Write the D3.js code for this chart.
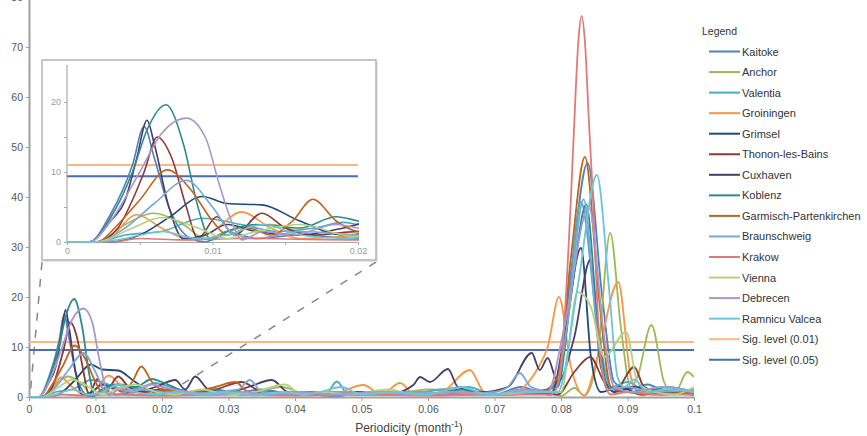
<!DOCTYPE html>
<html>
<head>
<meta charset="utf-8">
<script src="https://cdn.jsdelivr.net/npm/d3@7"></script>
<style>
body { margin: 0; background: #fff; }
text { font-family: "Liberation Sans", Arial, sans-serif; }
</style>
</head>
<body>
<svg id="chart" width="867" height="436"></svg>
<script>
// station names + colours (legend order)
var stations = ["Kaitoke", "Anchor", "Valentia", "Groiningen", "Grimsel", "Thonon-les-Bains",
    "Cuxhaven", "Koblenz", "Garmisch-Partenkirchen", "Braunschweig", "Krakow", "Vienna",
    "Debrecen", "Ramnicu Valcea"];
var colors = ["#4f81bd", "#9bbb59", "#4bacc6", "#f79646", "#1f497d", "#8b3a38",
    "#4a3d66", "#2f8a8c", "#c0631f", "#7ca6d8", "#e07a78", "#b7d27e",
    "#a898cc", "#6cc5da"];

// periodogram values: [periodicity, power]
var kaitoke = [[0,0],[0.0015,0],[0.003,4],[0.0045,11],[0.0053,16.5],[0.006,12],[0.007,5],[0.0085,0.5],[0.0095,0],[0.011,1.5],[0.013,0.5],[0.016,1],[0.02,0.5],[0.025,1],[0.03,0.5],[0.035,1.5],[0.04,0.5],[0.046,1],[0.052,0.5],[0.058,1],[0.064,0.5],[0.07,0.5],[0.074,2],[0.077,1],[0.0795,3],[0.0815,25],[0.084,46.8],[0.0862,20],[0.088,3],[0.09,1.5],[0.093,2.5],[0.096,1],[0.1,1.5]];
var anchor = [[0,0],[0.002,0],[0.004,2.5],[0.0059,4.1],[0.008,2.5],[0.0095,0.5],[0.011,1.5],[0.014,2.5],[0.017,1],[0.02,1.5],[0.024,0.5],[0.028,1],[0.032,0.5],[0.038,2],[0.042,0.5],[0.048,1],[0.054,0.5],[0.06,1.5],[0.066,1],[0.072,0.5],[0.078,1],[0.08,0.2],[0.082,1.8],[0.0835,0.3],[0.0855,8],[0.0874,32.8],[0.089,14],[0.0905,2],[0.0915,4],[0.0936,14.4],[0.0955,3],[0.097,0.5],[0.099,5],[0.1,4]];
var valentia = [[0,0],[0.002,0],[0.004,1],[0.0065,1.5],[0.0093,3.4],[0.012,2.5],[0.0145,1.5],[0.017,2],[0.019,2.8],[0.02,2.5],[0.024,1],[0.028,0.5],[0.032,1],[0.036,0.5],[0.04,1],[0.0445,0.3],[0.0463,3.1],[0.048,0.5],[0.052,1],[0.056,0.5],[0.062,1.5],[0.066,2],[0.07,0.5],[0.075,1.5],[0.0785,1],[0.0805,10],[0.083,39],[0.0855,14],[0.0875,2],[0.09,3],[0.093,1],[0.096,2],[0.1,1]];
var groiningen = [[0,0],[0.0025,0],[0.0048,3.9],[0.0065,2],[0.0085,0.3],[0.01,1.5],[0.012,4.3],[0.014,2],[0.016,0.5],[0.02,0.8],[0.025,0.5],[0.03,1],[0.035,0.5],[0.04,0.8],[0.045,0.3],[0.0503,2.4],[0.053,0.5],[0.0558,2.8],[0.058,0.5],[0.062,1],[0.0663,5.4],[0.0685,1],[0.072,0.5],[0.0768,6.4],[0.078,10],[0.0797,20],[0.0815,6],[0.0835,0.3],[0.0855,8],[0.0886,23],[0.0905,4],[0.092,0.5],[0.095,1],[0.1,0.5]];
var grimsel = [[0,0],[0.003,0],[0.005,1],[0.007,3.5],[0.0093,6.5],[0.011,5.5],[0.0134,5.3],[0.016,3],[0.019,1],[0.022,1.5],[0.026,0.5],[0.03,1],[0.034,0.5],[0.04,0.8],[0.046,0.3],[0.052,0.8],[0.058,0.5],[0.064,1],[0.07,0.5],[0.075,1],[0.0785,0.5],[0.0805,12],[0.083,29.8],[0.0845,8],[0.086,1],[0.089,2],[0.092,0.5],[0.096,1],[0.1,0.5]];
var thonon = [[0,0],[0.002,0],[0.0035,2],[0.0045,6],[0.0053,10],[0.0062,15],[0.0072,12],[0.0082,5],[0.009,0.5],[0.0103,3.6],[0.0115,1],[0.0134,4.1],[0.015,2],[0.017,1],[0.02,1.5],[0.024,1],[0.028,1.5],[0.032,3],[0.035,1],[0.04,0.5],[0.045,1],[0.05,0.5],[0.056,1],[0.06,0.5],[0.065,1],[0.07,0.5],[0.075,1],[0.0795,0.5],[0.082,5],[0.0844,8],[0.0865,3],[0.088,1],[0.091,6],[0.0925,2],[0.095,1],[0.1,0.5]];
var cuxhaven = [[0,0],[0.0015,0],[0.003,3],[0.004,6],[0.0048,12],[0.0055,17.4],[0.006,14],[0.007,5],[0.008,0.5],[0.0095,1],[0.011,2.5],[0.013,1.5],[0.016,1],[0.019,2],[0.022,3.4],[0.0235,1.5],[0.025,4.1],[0.027,1.5],[0.03,1],[0.033,2],[0.0365,3.4],[0.039,1],[0.045,0.5],[0.05,1],[0.054,0.5],[0.0578,2.4],[0.0588,4],[0.0603,3],[0.063,5.6],[0.0645,2],[0.068,1],[0.072,2],[0.0756,8.8],[0.0768,5.4],[0.078,7.8],[0.0795,3],[0.082,12],[0.0844,27.4],[0.086,6],[0.088,1],[0.091,2],[0.095,0.5],[0.1,1]];
var koblenz = [[0,0],[0.0015,0],[0.003,3.5],[0.0045,10],[0.0055,16],[0.0068,19.6],[0.008,14],[0.009,5],[0.0099,0.3],[0.011,1.5],[0.013,2.5],[0.016,2],[0.0185,3.6],[0.02,3],[0.024,1],[0.028,1.5],[0.032,0.5],[0.036,1],[0.04,0.5],[0.045,1],[0.05,0.5],[0.055,1],[0.06,0.5],[0.065,1.5],[0.07,0.5],[0.075,1],[0.0795,2],[0.0815,20],[0.0838,38.5],[0.0855,15],[0.087,2],[0.09,1],[0.094,1.5],[0.1,0.5]];
var garmisch = [[0,0],[0.002,0],[0.0035,2.5],[0.005,6],[0.0069,10.3],[0.0085,7.5],[0.01,3],[0.011,1],[0.0125,2],[0.014,1],[0.0155,3],[0.0169,6.1],[0.0185,3],[0.02,1.5],[0.024,1],[0.028,2],[0.031,3],[0.033,1],[0.037,0.5],[0.042,1],[0.048,0.5],[0.054,1],[0.06,0.5],[0.066,1],[0.072,0.5],[0.077,1],[0.0795,4],[0.0815,28],[0.0836,48],[0.0857,20],[0.0875,2],[0.09,1],[0.094,0.5],[0.1,1]];
var braunschweig = [[0,0],[0.002,0],[0.004,2],[0.006,5.5],[0.0082,8.8],[0.01,5],[0.0115,1],[0.013,0.5],[0.016,1.5],[0.02,1],[0.024,0.5],[0.028,1],[0.0315,1.5],[0.0332,3.4],[0.035,1],[0.04,0.5],[0.046,1],[0.052,0.5],[0.058,1],[0.064,0.5],[0.07,1],[0.072,2],[0.0738,4.8],[0.0755,2],[0.079,1],[0.081,15],[0.0834,39.5],[0.0855,12],[0.087,1.5],[0.09,2],[0.094,1],[0.1,1.5]];
var krakow = [[0,0],[0.003,0],[0.005,0.5],[0.008,0.3],[0.012,0.5],[0.02,0.3],[0.03,0.5],[0.04,0.3],[0.05,0.5],[0.06,0.3],[0.07,0.5],[0.0785,0.5],[0.0798,4],[0.0805,15],[0.0815,40],[0.082,55],[0.0826,71],[0.0831,76.2],[0.0836,71],[0.0842,55],[0.0848,40],[0.0856,15],[0.0863,4],[0.0875,0.5],[0.09,1],[0.095,0.5],[0.1,0.5]];
var vienna = [[0,0],[0.002,0],[0.0045,2],[0.0065,3.5],[0.009,2],[0.011,0.5],[0.013,1.5],[0.016,2.5],[0.019,1],[0.022,0.5],[0.026,1.5],[0.03,0.5],[0.034,1],[0.0385,2.5],[0.041,0.5],[0.044,1],[0.048,0.5],[0.054,1.5],[0.058,0.5],[0.064,1],[0.07,0.5],[0.076,1],[0.08,1],[0.0825,21],[0.0845,18],[0.0865,8],[0.0898,13],[0.0915,3],[0.094,1],[0.097,0.5],[0.1,2]];
var debrecen = [[0,0],[0.0015,0],[0.003,3],[0.005,10],[0.0065,15.5],[0.0082,17.7],[0.0095,15],[0.0105,8],[0.0115,2],[0.012,0.3],[0.0135,1.5],[0.0155,1],[0.0185,2.5],[0.02,2],[0.024,1],[0.028,0.5],[0.032,1],[0.036,0.5],[0.04,1],[0.046,0.5],[0.052,1],[0.058,0.5],[0.064,1],[0.07,0.5],[0.074,1.5],[0.078,1],[0.0805,14],[0.0842,38],[0.0865,12],[0.088,2],[0.091,1],[0.095,2],[0.1,1]];
var ramnicu = [[0,0],[0.002,0],[0.004,0.5],[0.0065,1.5],[0.009,0.5],[0.011,1],[0.0135,2.5],[0.016,1],[0.019,0.5],[0.022,1],[0.026,0.5],[0.03,1],[0.034,0.3],[0.038,1],[0.042,0.5],[0.047,2],[0.05,0.5],[0.055,1],[0.06,0.5],[0.065,2],[0.069,0.5],[0.074,1],[0.0795,1],[0.0825,22],[0.0854,44.4],[0.0872,22],[0.0885,4],[0.0895,2],[0.091,3.5],[0.093,1],[0.096,1.5],[0.1,1]];

var series = [kaitoke, anchor, valentia, groiningen, grimsel, thonon, cuxhaven, koblenz,
    garmisch, braunschweig, krakow, vienna, debrecen, ramnicu];

var sigLabels = ["Sig. level (0.01)", "Sig. level (0.05)"];
var sigValues = [11, 9.4];
var sigColors = ["#f9b884", "#4a6eaf"];

var xTicks = [0, 0.01, 0.02, 0.03, 0.04, 0.05, 0.06, 0.07, 0.08, 0.09, 0.1];
var yTicks = [0, 10, 20, 30, 40, 50, 60, 70, 80];
var insetXTicks = [0, 0.005, 0.01, 0.015, 0.02];
var insetYTicks = [0, 5, 10, 15, 20];
var insetLabelled = [0, 0.01, 0.02, 10, 20];

var svg = d3.select("#chart");

var x = d3.scaleLinear().domain([0, 0.1]).range([29, 694]);
var y = d3.scaleLinear().domain([0, 80]).range([397, -3]);

var fmt = function(d) { return String(+d.toFixed(3)); };

// clips
var defs = svg.append("defs");
defs.append("clipPath").attr("id", "mainClip")
  .append("rect").attr("x", 29).attr("y", -10).attr("width", 665).attr("height", 407);
defs.append("clipPath").attr("id", "insetClip")
  .append("rect").attr("x", 67).attr("y", 62).attr("width", 292).attr("height", 181);

// axes
var xAxis = svg.append("g")
    .attr("transform", "translate(0," + y(0) + ")")
    .call(d3.axisBottom(x).tickValues(xTicks).tickFormat(fmt).tickSize(4).tickSizeOuter(0));
var yAxis = svg.append("g")
    .attr("transform", "translate(" + x(0) + ",0)")
    .call(d3.axisLeft(y).tickValues(yTicks).tickSize(3).tickSizeOuter(0));
[xAxis, yAxis].forEach(function(g) {
    g.select(".domain").attr("stroke", "#a0a0a0").attr("stroke-width", 2);
    g.selectAll(".tick line").attr("stroke", "#a0a0a0");
    g.selectAll(".tick text").attr("fill", "#555").style("font-size", "10.5px")
        .style("font-family", "Liberation Sans, Arial, sans-serif");
});
xAxis.selectAll(".tick text").attr("dy", "0.9em");

svg.append("text")
    .attr("x", 409).attr("y", 432)
    .attr("text-anchor", "middle")
    .attr("fill", "#444").style("font-size", "12px")
    .text("Periodicity (month")
    .append("tspan").attr("dy", -5).style("font-size", "8.5px").text("-1")
    .select(function() { return this.parentNode; })
    .append("tspan").attr("dy", 5).style("font-size", "12px").text(")");

// zoom guide lines
var ix = d3.scaleLinear().domain([0, 0.02]).range([67, 358]);
var iy = d3.scaleLinear().domain([0, 25]).range([242, 67]);

svg.append("line")
    .attr("x1", 42).attr("y1", 262).attr("x2", x(0) + 1).attr("y2", y(0))
    .attr("stroke", "#888").attr("stroke-width", 1.5).attr("stroke-dasharray", "8,9");
svg.append("line")
    .attr("x1", 376).attr("y1", 262).attr("x2", x(0.02)).attr("y2", y(0))
    .attr("stroke", "#888").attr("stroke-width", 1.5).attr("stroke-dasharray", "8,9");

// main lines
var line = d3.line()
    .x(function(d) { return x(d[0]); })
    .y(function(d) { return y(d[1]); })
    .curve(d3.curveMonotoneX);

var main = svg.append("g").attr("clip-path", "url(#mainClip)");
sigValues.forEach(function(v, i) {
    main.append("path")
        .attr("d", line([[0, v], [0.1, v]]))
        .attr("fill", "none").attr("stroke", sigColors[i]).attr("stroke-width", 2.2);
});
series.forEach(function(s, i) {
    main.append("path")
        .attr("d", line(s))
        .attr("fill", "none")
        .attr("stroke", colors[i])
        .attr("stroke-width", 1.8);
});

// inset
var inset = svg.append("g");
inset.append("rect")
    .attr("x", 44).attr("y", 62).attr("width", 334).attr("height", 200)
    .attr("fill", "#e4e4e4");
inset.append("rect")
    .attr("x", 42).attr("y", 60).attr("width", 334).attr("height", 200)
    .attr("fill", "#fff").attr("stroke", "#b4b4b4").attr("stroke-width", 1.5);

var iLine = d3.line()
    .x(function(d) { return ix(d[0]); })
    .y(function(d) { return iy(d[1]); })
    .curve(d3.curveMonotoneX);

var ixAxis = inset.append("g")
    .attr("transform", "translate(0," + iy(0) + ")")
    .call(d3.axisBottom(ix).tickValues(insetXTicks).tickSize(3).tickSizeOuter(0)
        .tickFormat(function(d) { return insetLabelled.indexOf(d) >= 0 ? fmt(d) : ""; }));
var iyAxis = inset.append("g")
    .attr("transform", "translate(" + ix(0) + ",0)")
    .call(d3.axisLeft(iy).tickValues(insetYTicks).tickSize(3).tickSizeOuter(0)
        .tickFormat(function(d) { return insetLabelled.indexOf(d) >= 0 ? fmt(d) : ""; }));
iyAxis.select(".domain").attr("d", "M0," + iy(0) + "V65");
[ixAxis, iyAxis].forEach(function(g) {
    g.select(".domain").attr("stroke", "#aaa").attr("stroke-width", 1.2);
    g.selectAll(".tick line").attr("stroke", "#aaa");
    g.selectAll(".tick text").attr("fill", "#999").style("font-size", "9px")
        .style("font-family", "Liberation Sans, Arial, sans-serif");
});

var insetPlot = inset.append("g").attr("clip-path", "url(#insetClip)");
sigValues.forEach(function(v, i) {
    insetPlot.append("path")
        .attr("d", iLine([[0, v], [0.02, v]]))
        .attr("fill", "none").attr("stroke", sigColors[i]).attr("stroke-width", 2);
});
series.forEach(function(s, i) {
    insetPlot.append("path")
        .attr("d", iLine(s))
        .attr("fill", "none")
        .attr("stroke", colors[i])
        .attr("stroke-width", 1.6);
});

// legend
var legend = svg.append("g").attr("transform", "translate(702,0)");
legend.append("text").attr("x", 0).attr("y", 35)
    .attr("fill", "#333").style("font-size", "10.5px").text("Legend");

var legendNames = stations.concat(sigLabels);
var legendColors = colors.concat(sigColors);
var item = legend.selectAll(".item")
    .data(legendNames)
    .enter().append("g")
    .attr("class", "item")
    .attr("transform", function(d, i) { return "translate(0," + (51.5 + i * 20.55) + ")"; });
item.append("line")
    .attr("x1", 7).attr("x2", 38)
    .attr("stroke", function(d, i) { return legendColors[i]; })
    .attr("stroke-width", 2);
item.append("text")
    .attr("x", 40).attr("y", 4)
    .attr("fill", "#333").style("font-size", "11px")
    .text(function(d) { return d; });
</script>
</body>
</html>
